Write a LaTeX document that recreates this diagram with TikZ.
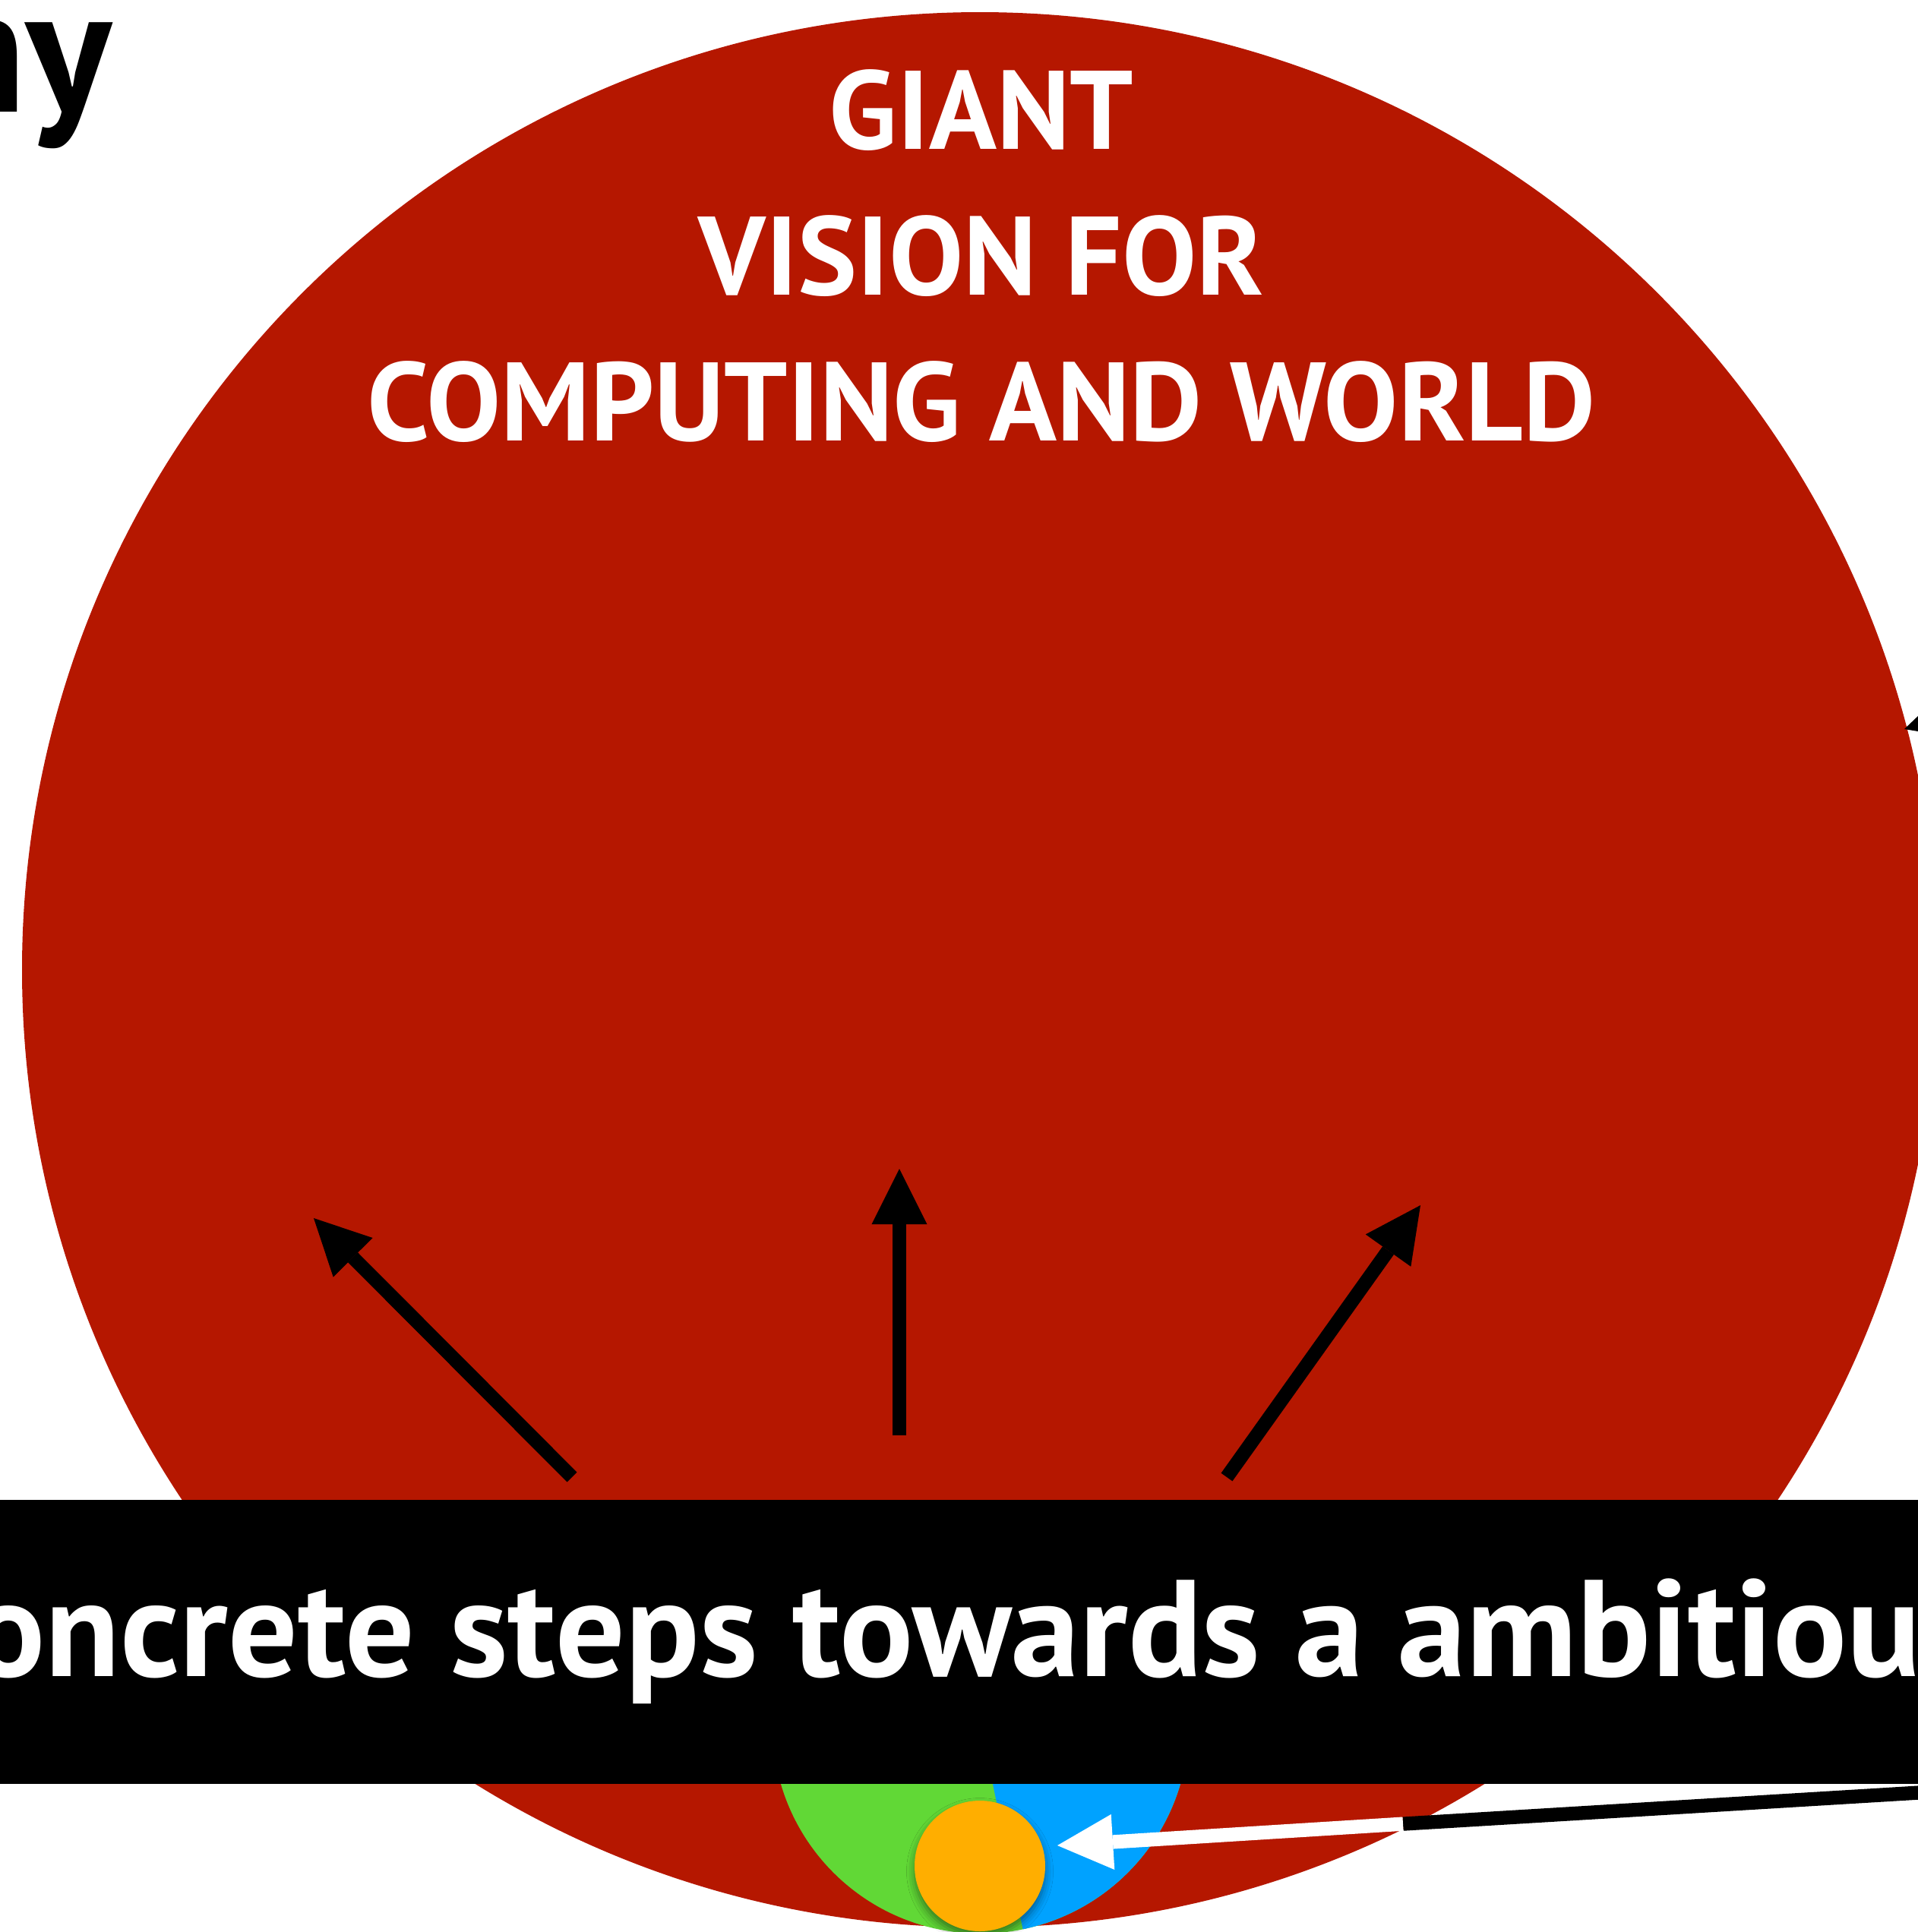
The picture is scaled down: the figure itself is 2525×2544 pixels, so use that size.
\documentclass[tikz,border=0pt]{standalone}
\usepackage{fontspec}
\setmainfont{PT Sans}
\usepackage{tikz}
\usetikzlibrary{arrows.meta, shadows.blur}
\definecolor{visioncolor}{HTML}{B51700}
\definecolor{greencolor}{HTML}{61D836}
\definecolor{bluecolor}{HTML}{00A2FF}
\definecolor{stepcolor}{HTML}{FFAE00}

\begin{document}
\begin{tikzpicture}[
    x=0.01cm, y=-0.01cm,
    headline/.style={text=white, font=\fontsize{41.8}{50}\selectfont\bfseries, anchor=base, inner sep=0pt},
    bandtext/.style={text=white, font=\fontsize{51.5}{60}\selectfont\bfseries, anchor=base west, inner sep=0pt},
    arrow/.style={line width=5.2pt, -{Triangle[length=20.8pt, width=20.8pt, line width=0pt, fill=#1]}},
    arrow/.default=black
]
\useasboundingbox (0,0) rectangle (2525,2544);
\clip (0,0) rectangle (2525,2544);

\coordinate (vision) at (1290,1277);
\coordinate (pie) at (1291,2272);
\coordinate (step) at (1290,2457);

% big circle and small pie
\fill[visioncolor] (vision) circle [radius=1261];
\fill[greencolor] (pie) circle [radius=274];
\fill[bluecolor] (pie) -- ++(78.3:274) arc [start angle=78.3, end angle=-60, radius=274] -- cycle;

\node[anchor=base east, inner sep=0pt, font=\fontsize{67}{80}\selectfont\bfseries] (title) at (148,147) {ny};

\node[headline] (giant) at (1292,196) {GIANT};
\node[headline] (forline) at (1292,388) {VISION FOR};
\node[headline] (world) at (1292,580) {COMPUTING AND WORLD};

\coordinate (leftfoot) at (753,1945);
\coordinate (lefthead) at (413,1604);
\coordinate (midfoot) at (1184,1890);
\coordinate (midhead) at (1184,1539);
\coordinate (rightfoot) at (1615,1945);
\coordinate (righthead) at (1870,1587);
\coordinate (edgefoot) at (2800,870);
\coordinate (edgehead) at (2507,960);

\draw[arrow] (leftfoot) -- (lefthead);
\draw[arrow] (midfoot) -- (midhead);
\draw[arrow] (rightfoot) -- (righthead);
\draw[arrow] (edgefoot) -- (edgehead);

\fill[black] (0,1975) rectangle (2525,2349);
\node[bandtext] (steps) at (59,2207) {\llap{Co}ncrete steps towards a ambitious};

\coordinate (pointer) at (2700,2350);
\coordinate (rim) at (1847,2401.6);
\coordinate (pointtip) at (1392,2430);
\draw[line width=5.2pt] (pointer) -- (rim);
\draw[arrow=white, white] (rim) -- (pointtip);

% the first step, with its soft shadow
\fill[stepcolor, blur shadow={shadow xshift=0pt, shadow yshift=-2pt, shadow blur radius=3pt, shadow opacity=45}] (step) circle [radius=86];
\end{tikzpicture}
\end{document}
